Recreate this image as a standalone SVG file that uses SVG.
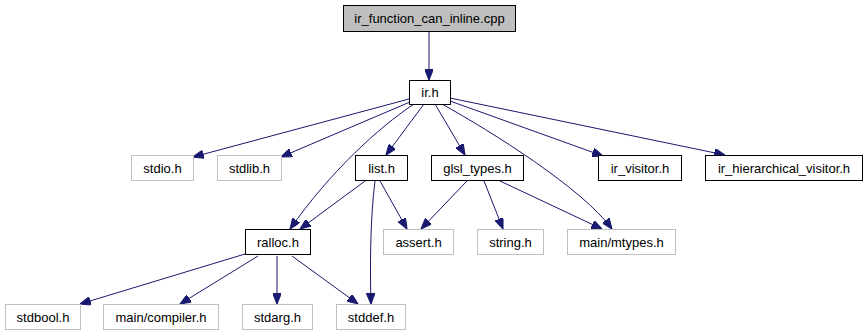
<svg xmlns="http://www.w3.org/2000/svg" width="865" height="336" viewBox="0 0 865 336">
<style>
  .node rect { fill: #ffffff; stroke: #000000; stroke-width: 1; }
  .node.ext rect { stroke: #bfbfbf; }
  .node.root rect { fill: #bfbfbf; }
  .node text { font-family: "Liberation Sans", Arial, sans-serif; font-size: 13px; fill: #000000; text-anchor: middle; }
  .edges path { fill: none; stroke: #191970; stroke-width: 1; marker-end: url(#arrow); }
</style>
<defs>
  <marker id="arrow" viewBox="0 0 10 8" refX="10" refY="4" markerWidth="11" markerHeight="8.5" markerUnits="userSpaceOnUse" orient="auto">
    <path d="M0,0 L10,4 L0,8 Z" fill="#191970" stroke="#191970"/>
  </marker>
</defs>
<rect width="865" height="336" fill="#ffffff"/>

<g class="edges">
  <path d="M429,32 L429,80"/>
  <path d="M409,99 L193,157"/>
  <path d="M410,102 L281,157"/>
  <path d="M414,104 C378,128 330,172 290,229"/>
  <path d="M424,104 L386,155"/>
  <path d="M435,104 L465,155"/>
  <path d="M442,104 C492,132 582,188 612,229"/>
  <path d="M450,101 L603,156"/>
  <path d="M450,98 L725,155"/>
  <path d="M365,181 L300,229"/>
  <path d="M380,181 L407,229"/>
  <path d="M375,181 C370,220 370,270 371,304"/>
  <path d="M467,181 L421,229"/>
  <path d="M484,181 L503,229"/>
  <path d="M500,181 L602,229"/>
  <path d="M245,254 L80,304"/>
  <path d="M258,256 L180,304"/>
  <path d="M277,256 L277,304"/>
  <path d="M292,256 L358,304"/>
</g>

<g id="node-ir_function_can_inline_cpp" class="node root">
  <rect x="343.5" y="5.5" width="172" height="26"/>
  <text x="429.5" y="23">ir_function_can_inline.cpp</text>
</g>
<g id="node-ir_h" class="node">
  <rect x="409.5" y="80.5" width="41" height="24"/>
  <text x="430" y="97">ir.h</text>
</g>
<g id="node-stdio_h" class="node ext">
  <rect x="131.5" y="155.5" width="62" height="25"/>
  <text x="162.5" y="172.5">stdio.h</text>
</g>
<g id="node-stdlib_h" class="node ext">
  <rect x="217.5" y="155.5" width="64" height="25"/>
  <text x="249.5" y="172.5">stdlib.h</text>
</g>
<g id="node-list_h" class="node">
  <rect x="355.5" y="155.5" width="52" height="25"/>
  <text x="381.5" y="172.5">list.h</text>
</g>
<g id="node-glsl_types_h" class="node">
  <rect x="431.5" y="155.5" width="92" height="25"/>
  <text x="477.5" y="172.5">glsl_types.h</text>
</g>
<g id="node-ir_visitor_h" class="node">
  <rect x="598.5" y="155.5" width="83" height="25"/>
  <text x="640" y="172.5">ir_visitor.h</text>
</g>
<g id="node-ir_hierarchical_visitor_h" class="node">
  <rect x="705.5" y="155.5" width="157" height="25"/>
  <text x="784" y="172.5">ir_hierarchical_visitor.h</text>
</g>
<g id="node-ralloc_h" class="node">
  <rect x="245.5" y="229.5" width="65" height="25"/>
  <text x="278" y="246.5">ralloc.h</text>
</g>
<g id="node-assert_h" class="node ext">
  <rect x="383.5" y="229.5" width="70" height="25"/>
  <text x="418.5" y="246.5">assert.h</text>
</g>
<g id="node-string_h" class="node ext">
  <rect x="477.5" y="229.5" width="66" height="25"/>
  <text x="510.5" y="246.5">string.h</text>
</g>
<g id="node-main_mtypes_h" class="node ext">
  <rect x="567.5" y="229.5" width="108" height="25"/>
  <text x="621.5" y="246.5">main/mtypes.h</text>
</g>
<g id="node-stdbool_h" class="node ext">
  <rect x="5.5" y="304.5" width="75" height="25"/>
  <text x="43" y="321.5">stdbool.h</text>
</g>
<g id="node-main_compiler_h" class="node ext">
  <rect x="103.5" y="304.5" width="115" height="25"/>
  <text x="161" y="321.5">main/compiler.h</text>
</g>
<g id="node-stdarg_h" class="node ext">
  <rect x="242.5" y="304.5" width="70" height="25"/>
  <text x="277.5" y="321.5">stdarg.h</text>
</g>
<g id="node-stddef_h" class="node ext">
  <rect x="336.5" y="304.5" width="69" height="25"/>
  <text x="371" y="321.5">stddef.h</text>
</g>
</svg>
